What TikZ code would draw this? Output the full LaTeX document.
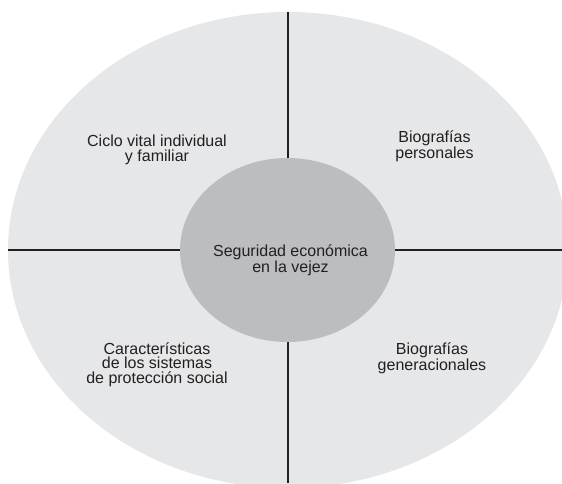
\documentclass[tikz,border=0pt]{standalone}
\usepackage{fontspec}
\setmainfont{Liberation Sans}
\usetikzlibrary{shapes.geometric}
\definecolor{outerfill}{HTML}{E6E7E8}
\definecolor{innerfill}{HTML}{BCBDBF}
\definecolor{inkc}{HTML}{231F20}
\begin{document}
\begin{tikzpicture}[x=1pt,y=-1pt,
  blob/.style={ellipse, inner sep=0pt, outer sep=0pt, draw=none},
  divider/.style={draw=inkc, line width=1.2pt},
  lbl/.style={align=center, text=inkc, inner sep=0pt, font=\fontsize{16}{14.5}\selectfont}]
\useasboundingbox (0,0) rectangle (562,483);
\clip (0,0) rectangle (562,483);
\node[blob, fill=outerfill, minimum width=560pt, minimum height=476pt] (outer) at (288,250) {};
\coordinate (vend) at (288,483);
\coordinate (hend) at (562,250);
\draw[divider] (outer.north) -- (vend);
\draw[divider] (outer.west) -- (hend);
\node[blob, fill=innerfill, minimum width=215pt, minimum height=184pt] (core) at (287.5,250) {};
\node[lbl] (coretext) at (290.5,259.9) {Seguridad económica\\en la vejez};
\node[lbl] (ciclo) at (157,149.7) {Ciclo vital individual\\y familiar};
\node[lbl] (biopers) at (434.5,145.9) {Biografías\\personales};
\node[lbl] (caract) at (157,364.6) {Características\\de los sistemas\\de protección social};
\node[lbl] (biogen) at (432,358.4) {Biografías\\generacionales};
\end{tikzpicture}
\end{document}
